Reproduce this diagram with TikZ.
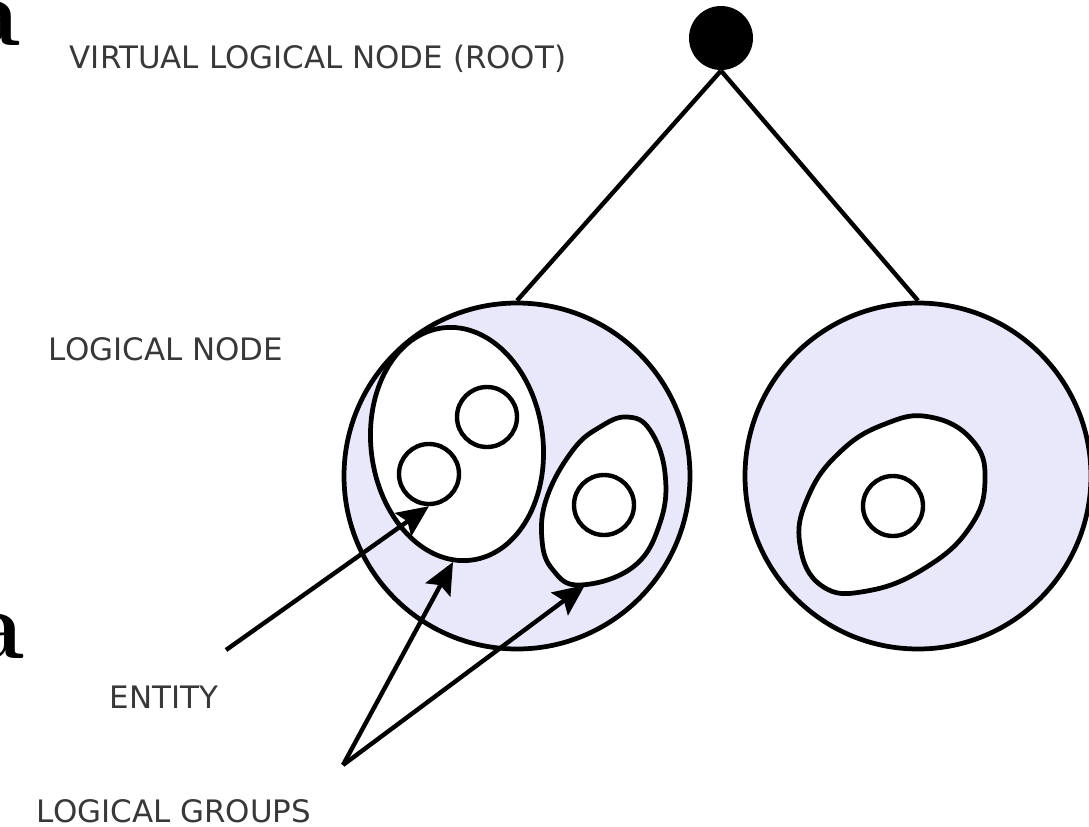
\documentclass[tikz,border=0pt]{standalone}
\usepackage{fontspec}
\newfontfamily\labelfont{DejaVu Sans}
\usetikzlibrary{arrows.meta}

\definecolor{nodefill}{RGB}{232,232,250}

\begin{document}
\begin{tikzpicture}[
                root/.style={
                    circle,
                    fill=black,
                    inner sep=0pt,
                    minimum size=6.4mm
                },
                lnode/.style={
                    circle,
                    draw=black,
                    fill=nodefill,
                    line width=1.35pt,
                    inner sep=0pt,
                    minimum size=34.6mm
                },
                entity/.style={
                    circle,
                    draw=black,
                    fill=white,
                    line width=1.25pt,
                    inner sep=0pt,
                    minimum size=6mm
                },
                group/.style={
                    draw=black,
                    fill=white,
                    line width=1.35pt
                },
                caption/.style={
                    anchor=base,
                    inner sep=0pt,
                    text=black!78,
                    font=\labelfont\fontsize{8.8}{10}\selectfont
                },
                stray/.style={
                    anchor=base east,
                    inner sep=0pt,
                    font=\bfseries\fontsize{28}{28}\selectfont
                },
                link/.style={
                    line width=1.25pt
                },
                pointer/.style={
                    line width=1.25pt,
                    -{Stealth[length=9pt,width=8pt,inset=1.5pt]}
                },
                x=0.1mm,
                y=-0.1mm
            ]

        \useasboundingbox (0,0) rectangle (1089,827);

        % cut-off letters of the page text
        \node[stray] (lettertop) at (21,45) {a};
        \node[stray] (letterbot) at (25,658) {a};

        % root
        \node[root] (root) at (721,38) {};

        % logical nodes
        \node[lnode] (lnodeleft) at (517,476) {};
        \node[lnode] (lnoderight) at (918,476) {};

        \draw[link] (root.south) -- (lnodeleft.north);
        \draw[link] (root.south) -- (lnoderight.north);

        % logical groups
        \draw[group, rotate around={7:(457,444)}]
            (457,444) ellipse [x radius=86, y radius=117];
        \draw[group] plot[smooth cycle, tension=0.7] coordinates {
            (627,417) (650,430) (665,473) (660,523) (633,567)
            (580,585) (553,570) (542,540) (547,497) (573,450) (600,427)
        };
        \draw[group] plot[smooth cycle, tension=0.75] coordinates {
            (930,417) (972,440) (985,480) (970,527) (925,568)
            (867,591) (822,586) (800,545) (808,497) (840,452) (885,424)
        };
        \coordinate (groupone) at (453,562);
        \coordinate (grouptwo) at (585,585);

        % entities
        \node[entity] (entone) at (487,417) {};
        \node[entity] (enttwo) at (429,474) {};
        \node[entity] (entthree) at (604,505) {};
        \node[entity] (entfour) at (893,506) {};

        % labels
        \node[caption] (rootlabel) at (318,68) {VIRTUAL LOGICAL NODE (ROOT)};
        \node[caption] (nodelabel) at (166,360) {LOGICAL NODE};
        \node[caption] (entitylabel) at (164,708) {ENTITY};
        \node[caption] (grouplabel) at (174,822) {LOGICAL GROUPS};

        % pointers
        \coordinate (entfoot) at (226,650);
        \coordinate (groupfoot) at (343,765);
        \draw[pointer] (entfoot) -- (enttwo.south);
        \draw[pointer] (groupfoot) -- (groupone);
        \draw[pointer] (groupfoot) -- (grouptwo);

\end{tikzpicture}
\end{document}
